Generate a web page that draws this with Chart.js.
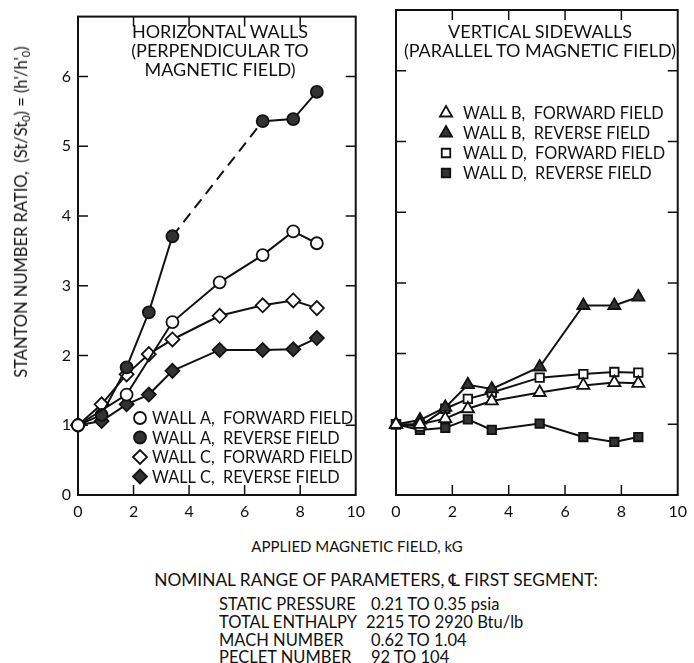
<!DOCTYPE html>
<html>
<head>
<meta charset="utf-8">
<script src="https://cdn.jsdelivr.net/npm/chart.js@4.4.1/dist/chart.umd.min.js"></script>
<style>
  body { margin: 0; background: #fff; width: 694px; height: 663px; position: relative; overflow: hidden;
         font-family: Lato, "DejaVu Sans", sans-serif; color: #111; }
  canvas { position: absolute; top: 0; }
  #chLeft { left: 0; }
  #chRight { left: 380px; }
  .txt { position: absolute; white-space: nowrap; font-size: 18px; line-height: 1; transform: translate(-50%, -50%); }
  .lft { position: absolute; white-space: nowrap; font-size: 16.5px; line-height: 1; transform: translateY(-50%); }
  .ytitle { position: absolute; left: 22px; top: 212px; white-space: nowrap; font-size: 16.5px; line-height: 1;
            transform: translate(-50%, -50%) rotate(-90deg); }
  sub { font-size: 11px; vertical-align: -3px; }
</style>
</head>
<body>
<canvas id="chLeft" width="372" height="530"></canvas>
<canvas id="chRight" width="314" height="530"></canvas>

<div class="ytitle">STANTON NUMBER RATIO,&nbsp; (St/St<sub>0</sub>) = (h'/h'<sub>0</sub>)</div>

<div class="txt" style="left:220px; top:31px;">HORIZONTAL WALLS</div>
<div class="txt" style="left:220px; top:50px;">(PERPENDICULAR TO</div>
<div class="txt" style="left:220px; top:69px;">MAGNETIC FIELD)</div>
<div class="txt" style="left:540px; top:31px;">VERTICAL SIDEWALLS</div>
<div class="txt" style="left:540px; top:50px;">(PARALLEL TO MAGNETIC FIELD)</div>

<div class="txt" style="left:357px; top:546px; font-size:15px;">APPLIED MAGNETIC FIELD, kG</div>
<div class="txt" style="left:376px; top:580px; font-size:17.3px;">NOMINAL RANGE OF PARAMETERS, ℄ FIRST SEGMENT:</div>
<div class="lft" style="left:219px; top:604px;">STATIC PRESSURE</div>
<div class="lft" style="left:371px; top:604px;">0.21 TO 0.35 psia</div>
<div class="lft" style="left:219px; top:622px;">TOTAL ENTHALPY</div>
<div class="lft" style="left:366px; top:622px;">2215 TO 2920 Btu/lb</div>
<div class="lft" style="left:219px; top:640px;">MACH NUMBER</div>
<div class="lft" style="left:371px; top:640px;">0.62 TO 1.04</div>
<div class="lft" style="left:219px; top:657px;">PECLET NUMBER</div>
<div class="lft" style="left:371px; top:657px;">92 TO 104</div>

<script>
// applied magnetic field, kG
var fieldKG = [0, 0.85, 1.75, 2.55, 3.4, 5.1, 6.65, 7.75, 8.6];

// horizontal walls (perpendicular to magnetic field)
var wallAForward = [1.0, null, 1.44, null, 2.48, 3.05, 3.44, 3.78, 3.61];
var wallAReverse = [1.0, 1.15, 1.83, 2.62, 3.71, null, 5.36, 5.39, 5.78];
var wallCForward = [1.0, 1.30, 1.73, 2.02, 2.23, 2.57, 2.72, 2.79, 2.68];
var wallCReverse = [1.0, 1.06, 1.30, 1.44, 1.78, 2.08, 2.08, 2.09, 2.25];

// vertical sidewalls (parallel to magnetic field)
var wallBForward = [1.0, 1.0, 1.08, 1.22, 1.33, 1.45, 1.55, 1.59, 1.58];
var wallBReverse = [1.0, 1.06, 1.24, 1.56, 1.50, 1.81, 2.68, 2.68, 2.80];
var wallDForward = [1.0, 0.97, 1.22, 1.36, 1.45, 1.66, 1.71, 1.74, 1.73];
var wallDReverse = [1.0, 0.92, 0.95, 1.07, 0.92, 1.01, 0.82, 0.75, 0.82];

// tick labels
var xTicks = [0, 2, 4, 6, 8, 10];
var yTicks = [0, 1, 2, 3, 4, 5, 6];
var yMax = 6.86;

Chart.defaults.font.family = 'Lato, "DejaVu Sans", sans-serif';
Chart.defaults.font.size = 16;
Chart.defaults.color = '#111';

var ink = '#111';
var dark = '#333';

function series(label, values, style, filled, radius, dashGap) {
    return {
        label: label,
        data: values.map(function (v, i) { return { x: fieldKG[i], y: v }; }),
        borderColor: ink,
        borderWidth: 2,
        pointStyle: style,
        pointRadius: radius,
        pointBackgroundColor: filled ? dark : '#fff',
        pointBorderColor: ink,
        pointBorderWidth: 1.8,
        spanGaps: true,
        clip: false,
        segment: {
            // dashed where a reading is missing
            borderDash: function (ctx) {
                return dashGap && (ctx.p0.skip || ctx.p1.skip) ? [11, 7] : undefined;
            }
        }
    };
}

// frame and inside tick marks
var framePlugin = {
    id: 'frame',
    beforeDatasetsDraw: function (chart) {
        var a = chart.chartArea, ctx = chart.ctx;
        var sx = chart.scales.x, sy = chart.scales.y;
        ctx.save();
        ctx.strokeStyle = ink;
        ctx.lineWidth = 2;
        ctx.strokeRect(a.left, a.top, a.right - a.left, a.bottom - a.top);
        ctx.lineWidth = 1.5;
        ctx.beginPath();
        xTicks.forEach(function (v) {
            if (v <= 0 || v >= 10) return;
            var px = sx.getPixelForValue(v);
            ctx.moveTo(px, a.bottom); ctx.lineTo(px, a.bottom - 10);
            ctx.moveTo(px, a.top); ctx.lineTo(px, a.top + 10);
        });
        yTicks.forEach(function (v) {
            if (v <= 0) return;
            var py = sy.getPixelForValue(v);
            ctx.moveTo(a.left, py); ctx.lineTo(a.left + 10, py);
            ctx.moveTo(a.right, py); ctx.lineTo(a.right - 10, py);
        });
        ctx.stroke();
        ctx.restore();
    }
};

// legend key drawn inside the plot
var keyPlugin = {
    id: 'key',
    afterDraw: function (chart, args, opts) {
        var ctx = chart.ctx;
        ctx.save();
        ctx.font = '16.3px Lato, "DejaVu Sans", sans-serif';
        ctx.textBaseline = 'middle';
        chart.data.datasets.forEach(function (ds, i) {
            var y = opts.top + i * opts.step;
            ctx.fillStyle = ds.pointBackgroundColor;
            ctx.strokeStyle = ds.pointBorderColor;
            ctx.lineWidth = ds.pointBorderWidth;
            Chart.helpers.drawPoint(ctx, {
                pointStyle: ds.pointStyle, radius: ds.pointRadius, rotation: 0, borderWidth: ds.pointBorderWidth
            }, opts.markX, y);
            ctx.fillStyle = ink;
            ctx.fillText(ds.label, opts.textX, y + 1);
        });
        ctx.restore();
    }
};

function panelOptions(showYLabels, yWidth, padRight, key) {
    return {
        responsive: false,
        animation: false,
        layout: { padding: { top: 10, right: padRight, left: 0, bottom: 0 } },
        plugins: { legend: { display: false }, tooltip: { enabled: false }, key: key },
        scales: {
            x: {
                type: 'linear', min: 0, max: 10,
                grid: { display: false, drawTicks: false },
                border: { display: false },
                ticks: { padding: 7, maxRotation: 0 },
                afterBuildTicks: function (s) { s.ticks = xTicks.map(function (v) { return { value: v }; }); },
                afterFit: function (s) { s.height = 35; }
            },
            y: {
                type: 'linear', min: 0, max: yMax,
                grid: { display: false, drawTicks: false },
                border: { display: false },
                ticks: { display: showYLabels, padding: 7 },
                afterBuildTicks: function (s) { s.ticks = yTicks.map(function (v) { return { value: v }; }); },
                afterFit: function (s) { s.width = yWidth; }
            }
        }
    };
}

var chLeft = document.getElementById('chLeft');
if (chLeft) {
    new Chart(chLeft, {
        type: 'line',
        data: {
            datasets: [
                series('WALL A,  FORWARD FIELD', wallAForward, 'circle', false, 6),
                series('WALL A,  REVERSE FIELD', wallAReverse, 'circle', true, 6, true),
                series('WALL C,  FORWARD FIELD', wallCForward, 'rectRot', false, 7),
                series('WALL C,  REVERSE FIELD', wallCReverse, 'rectRot', true, 7)
            ]
        },
        options: panelOptions(true, 78, 10, { markX: 140, textX: 152, top: 418, step: 19.5 }),
        plugins: [framePlugin, keyPlugin]
    });
}

var chRight = document.getElementById('chRight');
if (chRight) {
    new Chart(chRight, {
        type: 'line',
        data: {
            datasets: [
                series('WALL B,  FORWARD FIELD', wallBForward, 'triangle', false, 7),
                series('WALL B,  REVERSE FIELD', wallBReverse, 'triangle', true, 7),
                series('WALL D,  FORWARD FIELD', wallDForward, 'rect', false, 6),
                series('WALL D,  REVERSE FIELD', wallDReverse, 'rect', true, 6)
            ]
        },
        options: panelOptions(false, 16, 13, { markX: 66, textX: 83, top: 113, step: 20 }),
        plugins: [framePlugin, keyPlugin]
    });
}
</script>
</body>
</html>
